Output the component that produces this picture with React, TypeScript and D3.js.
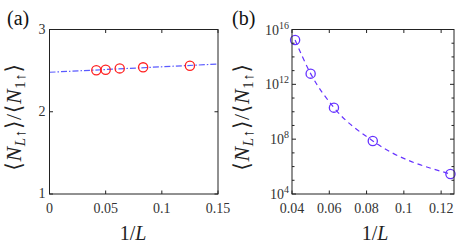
import * as d3 from "d3";

const W = 463;
const H = 249;

// system sizes L, plotted against 1/L
const sizes = [24, 20, 16, 12, 8];
// panel (a): ratio values
const ratioA = [2.504, 2.511, 2.527, 2.54, 2.56];
// panel (a): linear fit endpoints (x, y)
const fitX = [0, 0.15];
const fitY = [2.48, 2.58];
// panel (b): log10 of the ratio
const log10B = [15.23, 12.78, 10.3, 7.87, 5.46];

const ticksAX = [0, 0.05, 0.1, 0.15];
const ticksAXLabels = ["0", "0.05", "0.1", "0.15"];
const ticksAY = [1, 2, 3];
const ticksBX = [0.04, 0.06, 0.08, 0.1, 0.12];
const ticksBXLabels = ["0.04", "0.06", "0.08", "0.1", "0.12"];
const ticksBYMajor = [4, 8, 12, 16];

const FONT = "'Liberation Serif', 'Times New Roman', 'DejaVu Serif', serif";
const RED = "#ff2020";
const BLUE_A = "#5a5aff";
const BLUE_B = "#6633ff";

const txt = (size: number): React.CSSProperties => ({ fontFamily: FONT, fontSize: size });

function YLabel({ x, y }: { x: number; y: number }) {
  return (
    <text
      transform={`translate(${x},${y}) rotate(-90)`}
      textAnchor="middle"
      style={{ ...txt(22), letterSpacing: 0.6 }}
      fill="#222"
    >
      ⟨<tspan fontStyle="italic">N</tspan>
      <tspan style={txt(15)} dy={4}>
        <tspan fontStyle="italic">L</tspan>↑
      </tspan>
      <tspan dy={-4}>⟩/⟨</tspan>
      <tspan fontStyle="italic">N</tspan>
      <tspan style={txt(15)} dy={4}>1↑</tspan>
      <tspan dy={-4}>⟩</tspan>
    </text>
  );
}

function XLabel({ x, y }: { x: number; y: number }) {
  return (
    <text x={x} y={y} textAnchor="middle" style={txt(20)} fill="#222">
      1/<tspan fontStyle="italic">L</tspan>
    </text>
  );
}

function PanelA() {
  const left = 49.5, right = 218, top = 29.5, bottom = 194;
  const x = d3.scaleLinear().domain([0, 0.15]).range([left, right]);
  const y = d3.scaleLinear().domain([1, 3]).range([bottom, top]);
  const inv = sizes.map((s) => 1 / s);
  const fit = d3.line<number>().x((d) => x(d)).y((_, i) => y(fitY[i]));
  const tl = 3.5;
  return (
    <g>
      <path d={fit(fitX) ?? ""} fill="none" stroke={BLUE_A} strokeWidth={1.2} strokeDasharray="6,2,1.5,2" />
      {inv.map((v, i) => (
        <circle key={i} cx={x(v)} cy={y(ratioA[i])} r={4.6} fill="none" stroke={RED} strokeWidth={1.3} />
      ))}
      <rect x={left} y={top} width={right - left} height={bottom - top} fill="none" stroke="#222" strokeWidth={1} />
      {ticksAX.map((t, i) => (
        <g key={t}>
          <line x1={x(t)} x2={x(t)} y1={bottom} y2={bottom - tl} stroke="#222" />
          <line x1={x(t)} x2={x(t)} y1={top} y2={top + tl} stroke="#222" />
          <text x={x(t)} y={213} textAnchor="middle" style={txt(14)} fill="#333">
            {ticksAXLabels[i]}
          </text>
        </g>
      ))}
      {ticksAY.map((t) => (
        <g key={t}>
          <line x1={left} x2={left + tl} y1={y(t)} y2={y(t)} stroke="#222" />
          <line x1={right} x2={right - tl} y1={y(t)} y2={y(t)} stroke="#222" />
          <text x={45.5} y={y(t) + 4} textAnchor="end" style={txt(14)} fill="#333">
            {t}
          </text>
        </g>
      ))}
      <YLabel x={21} y={117} />
      <XLabel x={133} y={240} />
      <text x={7} y={25} style={txt(20)} fill="#111">(a)</text>
    </g>
  );
}

function PanelB() {
  const left = 292, right = 454, top = 29.5, bottom = 194;
  const x = d3.scaleLinear().domain([0.04, 0.1269]).range([left, right]);
  const y = d3.scaleLinear().domain([4, 16]).range([bottom, top]);
  const inv = sizes.map((s) => 1 / s);
  const pts: [number, number][] = inv.map((v, i) => [x(v), y(log10B[i])]);
  const curve = d3.line().curve(d3.curveMonotoneX);
  const decades = d3.range(4, 17);
  const tl = 3.5;
  return (
    <g>
      <path d={curve(pts) ?? ""} fill="none" stroke={BLUE_B} strokeWidth={1.2} strokeDasharray="5,4" />
      {pts.map((p, i) => (
        <circle key={i} cx={p[0]} cy={p[1]} r={4.6} fill="none" stroke={BLUE_B} strokeWidth={1.3} />
      ))}
      <rect x={left} y={top} width={right - left} height={bottom - top} fill="none" stroke="#222" strokeWidth={1} />
      {ticksBX.map((t, i) => (
        <g key={t}>
          <line x1={x(t)} x2={x(t)} y1={bottom} y2={bottom - tl} stroke="#222" />
          <line x1={x(t)} x2={x(t)} y1={top} y2={top + tl} stroke="#222" />
          <text x={x(t)} y={213} textAnchor="middle" style={txt(14)} fill="#333">
            {ticksBXLabels[i]}
          </text>
        </g>
      ))}
      {decades.map((d) => {
        const major = ticksBYMajor.includes(d);
        const len = major ? 4 : 2.5;
        return (
          <g key={d}>
            <line x1={left} x2={left + len} y1={y(d)} y2={y(d)} stroke="#222" />
            <line x1={right} x2={right - len} y1={y(d)} y2={y(d)} stroke="#222" />
          </g>
        );
      })}
      {ticksBYMajor.map((d) => (
        <text key={d} x={289} y={y(d) + 5} textAnchor="end" style={txt(14)} fill="#333">
          10<tspan style={txt(10)} dy={-6}>{d}</tspan>
        </text>
      ))}
      <YLabel x={249} y={117} />
      <XLabel x={375} y={240} />
      <text x={232} y={25} style={txt(20)} fill="#111">(b)</text>
    </g>
  );
}

export default function App() {
  return (
    <div style={{ position: "absolute", left: 0, top: 0 }}>
      <svg width={W} height={H} style={{ display: "block", background: "#fff" }}>
        <PanelA />
        <PanelB />
      </svg>
    </div>
  );
}
